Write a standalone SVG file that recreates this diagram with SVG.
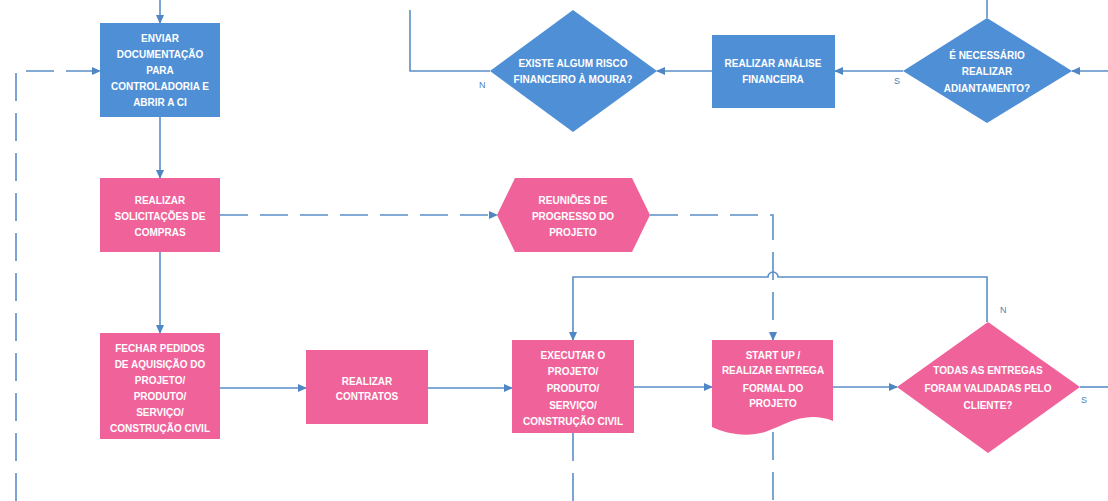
<svg xmlns="http://www.w3.org/2000/svg" width="1108" height="501" viewBox="0 0 1108 501">
<defs>
<style>
.blue{fill:#4f8fd6;}
.pink{fill:#f0629a;}
.t{font-family:"Liberation Sans",Arial,sans-serif;font-size:10px;font-weight:bold;fill:#ffffff;text-anchor:middle;dominant-baseline:central;}
.lbl{font-family:"Liberation Sans",Arial,sans-serif;font-size:9px;fill:#4f7fb6;}
.c{fill:none;stroke:#5a8ec8;stroke-width:1.6;}
.d{stroke-dasharray:28 12;}
</style>
<marker id="ah" viewBox="0 0 10 10" refX="9" refY="5" markerWidth="9" markerHeight="9" orient="auto" markerUnits="userSpaceOnUse">
<path d="M0,0.5 L10,5 L0,9.5 Z" fill="#4f86c4"/>
</marker>
</defs>
<rect width="1108" height="501" fill="#ffffff"/>
<g id="connectors">
<path class="c" d="M160,0 V23" marker-end="url(#ah)"/>
<path class="c d" d="M16,501 V71 H100" marker-end="url(#ah)"/>
<path class="c" d="M490,71 H410 V10"/>
<path class="c" d="M712,71 H657" marker-end="url(#ah)"/>
<path class="c" d="M903,71 H835" marker-end="url(#ah)"/>
<path class="c" d="M1108,71 H1072" marker-end="url(#ah)"/>
<path class="c" d="M987,18 V0"/>
<path class="c" d="M160,117 V178" marker-end="url(#ah)"/>
<path class="c d" d="M220,215 H497" marker-end="url(#ah)"/>
<path class="c d" d="M650,215 H773 V340" marker-end="url(#ah)"/>
<path class="c" d="M160,252 V333" marker-end="url(#ah)"/>
<path class="c" d="M220,388 H306" marker-end="url(#ah)"/>
<path class="c" d="M428,388 H512" marker-end="url(#ah)"/>
<path class="c" d="M634,387 H712" marker-end="url(#ah)"/>
<path class="c" d="M833,387 H897" marker-end="url(#ah)"/>
<path class="c" d="M1080,387 H1108"/>
<path class="c" d="M987,322 V277 H778 A5,5 0 0 0 768,277 H573 V340" marker-end="url(#ah)"/>
<path class="c d" d="M573,433 V501"/>
<path class="c d" d="M773,432 V501"/>
<text class="lbl" x="479" y="88">N</text>
<text class="lbl" x="894" y="84">S</text>
<text class="lbl" x="1000" y="313">N</text>
<text class="lbl" x="1081" y="403">S</text>
</g>
<g id="enviar">
<rect class="blue" x="100" y="23" width="120" height="94"/>
<text class="t" x="160" y="38">ENVIAR</text>
<text class="t" x="160" y="54">DOCUMENTAÇÃO</text>
<text class="t" x="160" y="70">PARA</text>
<text class="t" x="160" y="86">CONTROLADORIA E</text>
<text class="t" x="160" y="102">ABRIR A CI</text>
</g>
<g id="risco">
<polygon class="blue" points="490,71 573,10 657,71 573,132"/>
<text class="t" x="573" y="63">EXISTE ALGUM RISCO</text>
<text class="t" x="573" y="79">FINANCEIRO À MOURA?</text>
</g>
<g id="analise">
<rect class="blue" x="712" y="35" width="123" height="73"/>
<text class="t" x="773" y="63">REALIZAR ANÁLISE</text>
<text class="t" x="773" y="79">FINANCEIRA</text>
</g>
<g id="adiantamento">
<polygon class="blue" points="903,71 987,18 1072,71 987,123"/>
<text class="t" x="987" y="55">É NECESSÁRIO</text>
<text class="t" x="987" y="71">REALIZAR</text>
<text class="t" x="987" y="88">ADIANTAMENTO?</text>
</g>
<g id="solicitacoes">
<rect class="pink" x="100" y="178" width="120" height="74"/>
<text class="t" x="160" y="200">REALIZAR</text>
<text class="t" x="160" y="216">SOLICITAÇÕES DE</text>
<text class="t" x="160" y="232">COMPRAS</text>
</g>
<g id="reunioes">
<polygon class="pink" points="497,215 515,178 632,178 650,215 632,252 515,252"/>
<text class="t" x="573" y="200">REUNIÕES DE</text>
<text class="t" x="573" y="216">PROGRESSO DO</text>
<text class="t" x="573" y="232">PROJETO</text>
</g>
<g id="fechar">
<rect class="pink" x="100" y="333" width="120" height="106"/>
<text class="t" x="160" y="348">FECHAR PEDIDOS</text>
<text class="t" x="160" y="364">DE AQUISIÇÃO DO</text>
<text class="t" x="160" y="380">PROJETO/</text>
<text class="t" x="160" y="396">PRODUTO/</text>
<text class="t" x="160" y="412">SERVIÇO/</text>
<text class="t" x="160" y="428">CONSTRUÇÃO CIVIL</text>
</g>
<g id="contratos">
<rect class="pink" x="306" y="350" width="122" height="74"/>
<text class="t" x="367" y="381">REALIZAR</text>
<text class="t" x="367" y="396">CONTRATOS</text>
</g>
<g id="executar">
<rect class="pink" x="512" y="340" width="122" height="93"/>
<text class="t" x="573" y="355">EXECUTAR O</text>
<text class="t" x="573" y="371">PROJETO/</text>
<text class="t" x="573" y="388">PRODUTO/</text>
<text class="t" x="573" y="405">SERVIÇO/</text>
<text class="t" x="573" y="421">CONSTRUÇÃO CIVIL</text>
</g>
<g id="startup">
<path class="pink" d="M712,340 H833 V421 C805,410 785,425 765,432 C745,438 725,433 712,427 Z"/>
<text class="t" x="773" y="355">START UP /</text>
<text class="t" x="773" y="370">REALIZAR ENTREGA</text>
<text class="t" x="773" y="388">FORMAL DO</text>
<text class="t" x="773" y="403">PROJETO</text>
</g>
<g id="validadas">
<polygon class="pink" points="897,387 988,322 1080,387 988,453"/>
<text class="t" x="988" y="370">TODAS AS ENTREGAS</text>
<text class="t" x="988" y="388">FORAM VALIDADAS PELO</text>
<text class="t" x="988" y="405">CLIENTE?</text>
</g>
</svg>
